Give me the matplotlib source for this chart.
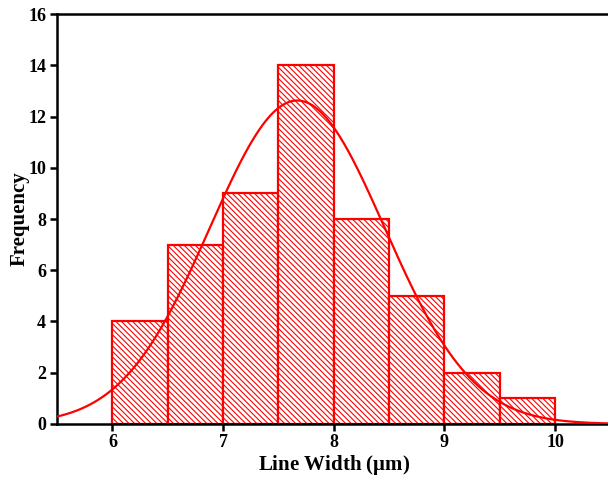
import numpy as np
import matplotlib
matplotlib.use("Agg")
import matplotlib.pyplot as plt

# Histogram bins (left edges) and counts
bin_edges = [6.0, 6.5, 7.0, 7.5, 8.0, 8.5, 9.0, 9.5, 10.0]
counts = [4, 7, 9, 14, 8, 5, 2, 1]

# Normal fit parameters
fit_mean = 7.67
fit_sigma = 0.79

plt.rcParams['font.family'] = ['Liberation Serif', 'DejaVu Serif']
plt.rcParams['font.weight'] = 'bold'
plt.rcParams['mathtext.fontset'] = 'custom'
plt.rcParams['mathtext.rm'] = 'Liberation Serif'
plt.rcParams['hatch.linewidth'] = 0.8
plt.rcParams['hatch.color'] = 'red'

fig = plt.figure(figsize=(6.08, 4.84), dpi=100)
ax = fig.add_axes([0.094, 0.124, 0.91, 0.847])

lefts = bin_edges[:-1]
widths = np.diff(bin_edges)
ax.bar(lefts, counts, width=widths, align="edge", facecolor="white",
       edgecolor="red", linewidth=1.6, hatch="\\" * 6, zorder=2)

# fitted normal curve scaled to counts
n_total = sum(counts)
bw = widths[0]
xs = np.linspace(5.5, 10.5, 400)
ys = n_total * bw / (fit_sigma * np.sqrt(2 * np.pi)) * np.exp(-0.5 * ((xs - fit_mean) / fit_sigma) ** 2)
ax.plot(xs, ys, color="red", linewidth=1.6, zorder=3)

ax.set_xlim(5.5, 10.5)
ax.set_ylim(0, 16)
ax.set_xticks([6, 7, 8, 9, 10])
ax.set_yticks(range(0, 17, 2))

for s in ["left", "bottom", "top"]:
    ax.spines[s].set_linewidth(1.8)
ax.spines["right"].set_visible(False)
ax.tick_params(direction="out", length=5, width=1.8, labelsize=13)
ax.tick_params(axis="x", pad=2)
ax.tick_params(axis="y", pad=3)
for lbl in ax.get_xticklabels() + ax.get_yticklabels():
    lbl.set_fontweight("bold")

ax.set_xlabel(r"Line Width ($\mathregular{\mu m}$)", fontsize=15, fontweight="bold", labelpad=2)
ax.set_ylabel("Frequency", fontsize=15, fontweight="bold", labelpad=-1)

fig.savefig("out.png", dpi=100)
